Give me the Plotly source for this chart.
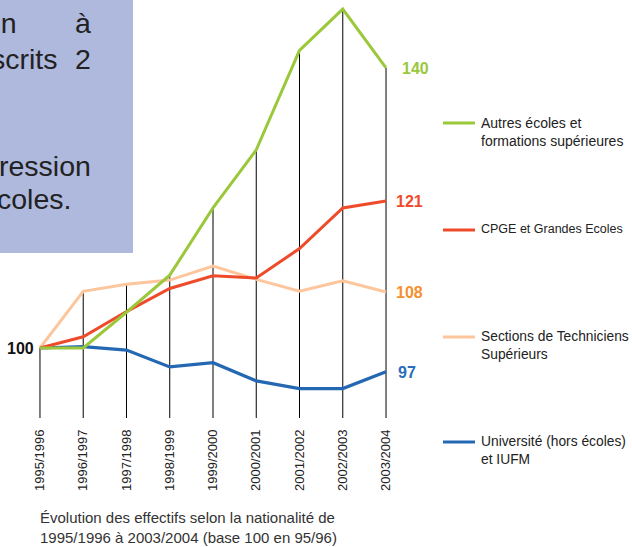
import plotly.graph_objects as go

# ---------------- data ----------------
categories = ["1995/1996", "1996/1997", "1997/1998", "1998/1999", "1999/2000",
              "2000/2001", "2001/2002", "2002/2003", "2003/2004"]
autres = [100, 100, 105.1, 110.4, 120.0, 128.3, 142.5, 148.4, 140]
cpge = [100, 101.6, 105.2, 108.5, 110.3, 110.0, 114.2, 120.0, 121]
sts = [100, 108.1, 109.1, 109.7, 111.7, 109.8, 108.1, 109.6, 108]
univ = [100, 100.2, 99.7, 97.3, 97.9, 95.3, 94.2, 94.2, 96.6]

series_names = ["Autres écoles et<br>formations supérieures", "CPGE et Grandes Ecoles",
                "Sections de Techniciens<br>Supérieurs", "Université (hors écoles)<br>et IUFM"]
end_labels = ["140", "121", "108", "97"]
base_label = "100"

title_lines = ["Évolution des effectifs selon la nationalité de",
               "1995/1996 à 2003/2004 (base 100 en 95/96)"]
box_texts = ["on", "à", "scrits", "2", "ression", "coles."]

# ---------------- styles ----------------
FONT = "Liberation Sans, Arial, sans-serif"
line_colors = ["#9BC83B", "#EE4B2B", "#FDC69C", "#2468B4"]
label_colors = ["#9AC83C", "#EE4B2B", "#F5902F", "#2A6DBA"]
line_widths = [3, 3, 3, 3.2]

W, H = 632, 547
L, T = 27, 0
PW, PH = 372, 418
R, B = W - L - PW, H - T - PH


def px(x):
    return (x - L) / PW


def py(y):
    return 1 - (y - T) / PH


x_idx = list(range(len(categories)))
fig = go.Figure()

# vertical drop lines from the top series value down to the axis base
all_series = [autres, cpge, sts, univ]
ymin = 90
dx, dy = [], []
for i in x_idx:
    top = max(s[i] for s in all_series)
    dx += [i, i, None]
    dy += [ymin, top, None]
fig.add_trace(go.Scatter(x=dx, y=dy, mode="lines", line=dict(color="#000000", width=1),
                         hoverinfo="skip", showlegend=False))

order = [2, 3, 1, 0]
for k in order:
    fig.add_trace(go.Scatter(x=x_idx, y=all_series[k], mode="lines",
                             line=dict(color=line_colors[k], width=line_widths[k]),
                             name=series_names[k], showlegend=False))

annotations = []
shapes = []

# end labels
end_shift = [14, 8, 8, 10]
for k in range(4):
    annotations.append(dict(x=x_idx[-1], y=all_series[k][-1], xref="x", yref="y",
                            text="<b>%s</b>" % end_labels[k], showarrow=False,
                            xanchor="left", yanchor="middle", xshift=end_shift[k],
                            yshift=-1,
                            font=dict(family=FONT, size=16, color=label_colors[k])))
annotations.append(dict(x=0, y=autres[0], xref="x", yref="y", text="<b>%s</b>" % base_label,
                        showarrow=False, xanchor="right", yanchor="middle", xshift=-4,
                        yshift=-1, font=dict(family=FONT, size=16, color="#111111")))

# legend (manual)
leg_y = [123, 230, 337, 442]
leg_sizes = [14, 12.5, 13.8, 13.8]
for k in range(4):
    shapes.append(dict(type="line", xref="paper", yref="paper",
                       x0=px(443), x1=px(475), y0=py(leg_y[k]), y1=py(leg_y[k]),
                       line=dict(color=line_colors[k], width=3)))
    annotations.append(dict(x=px(479), y=py(leg_y[k] - 10), xref="paper", yref="paper",
                            text=series_names[k], showarrow=False, align="left",
                            xanchor="left", yanchor="top",
                            font=dict(family=FONT, size=leg_sizes[k], color="#222222")))

# caption
for i, t in enumerate(title_lines):
    annotations.append(dict(x=px(38), y=py(517 + 20 * i), xref="paper", yref="paper",
                            text=t, showarrow=False, xanchor="left", yanchor="middle",
                            font=dict(family=FONT, size=15, color="#333333")))

# overlapping slide box
shapes.append(dict(type="rect", xref="paper", yref="paper", x0=px(-2), x1=px(133),
                   y0=py(253), y1=py(-2), fillcolor="#AFB9DD", line=dict(width=0),
                   layer="above"))
box_pos = [(19, 23, "right"), (93, 23, "right"), (60, 59, "right"), (93, 59, "right"),
           (93, 166, "right"), (73, 199, "right")]
for t, (bx, by, anc) in zip(box_texts, box_pos):
    annotations.append(dict(x=px(bx), y=py(by), xref="paper", yref="paper", text=t,
                            showarrow=False, xanchor=anc, yanchor="middle",
                            font=dict(family=FONT, size=28.5, color="#222222")))

fig.update_layout(
    width=W, height=H,
    margin=dict(l=L, r=R, t=T, b=B, pad=0),
    paper_bgcolor="white", plot_bgcolor="white",
    showlegend=False,
    xaxis=dict(range=[-0.3, 8.3], tickmode="array", tickvals=x_idx, ticktext=categories,
               tickangle=-90, showgrid=False, zeroline=False, showline=False, ticks="",
               automargin=False, ticklabelstandoff=8,
               tickfont=dict(family=FONT, size=13, color="#222222")),
    yaxis=dict(range=[ymin, 149.7], showgrid=False, zeroline=False, showline=False,
               showticklabels=False, ticks="", automargin=False),
    annotations=annotations,
    shapes=shapes,
)

fig.write_html("out.html", config={"displayModeBar": False},
               post_script="document.body.style.margin='0';document.body.style.overflow='hidden';")
